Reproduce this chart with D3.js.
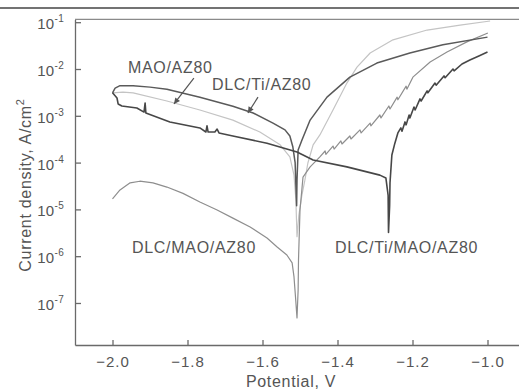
<!DOCTYPE html>
<meta charset="utf-8">
<style>
body { margin: 0; background: #fff; }
svg { display: block; font-family: "Liberation Sans", Arial, sans-serif; }
.axis path, .axis line { fill: none; stroke: #6a6a6a; stroke-width: 1.3; }
.axis text { fill: #555; font-size: 15px; letter-spacing: 1px; font-family: "Liberation Sans", Arial, sans-serif; }
.lbl { fill: #555; font-size: 16px; letter-spacing: 0.7px; }
.curve { fill: none; stroke-linejoin: round; }
</style>
<svg id="chart" width="519" height="391"></svg>
<script src="https://d3js.org/d3.v7.min.js"></script>
<script>

// potential (V) and current density (A/cm2)
var potTiAZ = [-2.0,-1.993,-1.980,-1.945,-1.900,-1.855,-1.767,-1.679,-1.625,-1.572,-1.540,-1.527,-1.519,-1.513,-1.511,-1.509,-1.508,-1.505,-1.495,-1.473,-1.428,-1.367,-1.295,-1.207,-1.119,-1.0];
var curTiAZ = [3.1e-3,3.9e-3,4.4e-3,4.4e-3,4.1e-3,3.7e-3,2.5e-3,1.6e-3,1.15e-3,7.0e-4,5.0e-4,3.7e-4,2.15e-4,1.0e-4,3.3e-5,1.2e-5,4.2e-5,1.86e-4,3.0e-4,8.1e-4,2.5e-3,6.7e-3,1.34e-2,2.2e-2,3.3e-2,4.8e-2];

var potMAO = [-2.0,-1.972,-1.945,-1.855,-1.767,-1.679,-1.607,-1.553,-1.527,-1.516,-1.511,-1.508,-1.503,-1.495,-1.487,-1.479,-1.465,-1.447,-1.412,-1.375,-1.348,-1.313,-1.252,-1.161,-1.073,-0.993];
var curMAO = [3.1e-3,3.2e-3,3.1e-3,2.07e-3,1.33e-3,8.1e-4,4.5e-4,2.4e-4,1.32e-4,5.4e-5,1.6e-5,2.6e-6,7.6e-6,2.0e-5,4.2e-5,9.8e-5,2.4e-4,3.9e-4,1.33e-3,5.0e-3,1.1e-2,2.2e-2,4.2e-2,6.8e-2,8.7e-2,1.06e-1];

var potTiMAO = [-2.0,-1.988,-1.985,-1.975,-1.935,-1.916,-1.913,-1.911,-1.847,-1.767,-1.751,-1.748,-1.745,-1.727,-1.721,-1.716,-1.679,-1.588,-1.508,-1.465,-1.375,-1.287,-1.271,-1.265,-1.264,-1.261,-1.260,-1.255,-1.247,-1.239,
  -1.231,-1.228,-1.220,-1.217,-1.209,-1.207,-1.196,-1.193,-1.180,-1.177,-1.161,-1.159,-1.140,-1.137,-1.116,-1.113,-1.092,-1.089,-1.068,-1.047,-1.023,-1.0];
var curTiMAO = [3.1e-3,2.4e-3,1.79e-3,1.62e-3,1.47e-3,1.2e-3,1.88e-3,1.15e-3,7.4e-4,5.5e-4,4.5e-4,6.1e-4,4.5e-4,4.5e-4,5.2e-4,4.3e-4,3.7e-4,2.6e-4,1.68e-4,1.14e-4,8.1e-5,5.4e-5,4.7e-5,2.0e-5,3.2e-6,1.2e-5,3.7e-5,1.45e-4,2.6e-4,4.3e-4,
  5.5e-4,4.7e-4,7.4e-4,6.4e-4,1.04e-3,9.0e-4,1.54e-3,1.33e-3,2.3e-3,2.07e-3,3.4e-3,3.1e-3,5.0e-3,4.5e-3,7.1e-3,6.5e-3,1.0e-2,9.1e-3,1.28e-2,1.56e-2,1.9e-2,2.3e-2];

var potDlcMAO = [-2.0,-1.980,-1.953,-1.927,-1.892,-1.855,-1.812,-1.767,-1.721,-1.679,-1.633,-1.588,-1.561,-1.535,-1.521,-1.516,-1.512,-1.508,-1.505,-1.504,-1.500,-1.492,-1.473,-1.447,-1.433,-1.431,-1.412,-1.409,-1.391,-1.388,-1.367,-1.364,-1.340,-1.337,-1.313,-1.311,-1.287,-1.284,-1.263,-1.260,-1.241,-1.239,-1.217,-1.215,-1.199,-1.153,-1.108,-1.055,-0.999];
var curDlcMAO = [1.67e-5,2.6e-5,3.7e-5,4.0e-5,3.7e-5,3.0e-5,2.2e-5,1.44e-5,9.7e-6,6.5e-6,4.2e-6,2.45e-6,1.57e-6,1.06e-6,7.2e-7,3.6e-7,1.34e-7,4.8e-8,1.9e-7,8.3e-7,9.7e-6,4.9e-5,8.1e-5,1.32e-4,1.77e-4,1.5e-4,2.26e-4,1.95e-4,2.9e-4,2.5e-4,3.7e-4,3.2e-4,5.0e-4,4.3e-4,7.0e-4,6.1e-4,1.04e-3,9.0e-4,1.62e-3,1.4e-3,2.5e-3,2.2e-3,4.3e-3,3.7e-3,6.7e-3,1.41e-2,2.3e-2,3.8e-2,5.9e-2];

var xTicks = [-2.0, -1.8, -1.6, -1.4, -1.2, -1.0];
var yExponents = [-1, -2, -3, -4, -5, -6, -7];

var svg = d3.select("#chart");

var x = d3.scaleLinear().domain([-2.1, -0.9]).range([75, 525]);
var y = d3.scaleLog().domain([Math.pow(10, -7.9), Math.pow(10, -0.94)]).range([345.1, 19.4]);

// page rule on top
svg.append("line").attr("x1", 0).attr("x2", 519).attr("y1", 8).attr("y2", 8)
  .attr("stroke", "#444").attr("stroke-width", 1.5);

// top frame
svg.append("line").attr("x1", 75).attr("x2", 519).attr("y1", y.range()[1]).attr("y2", y.range()[1])
  .attr("stroke", "#8a8a8a").attr("stroke-width", 1.3);

var xAxis = d3.axisBottom(x).tickValues(xTicks).tickSize(-5).tickPadding(11)
  .tickFormat(d3.format(".1f")).tickSizeOuter(0);
svg.append("g").attr("class", "axis")
  .attr("transform", "translate(0,345)")
  .call(xAxis);

var yAxis = d3.axisLeft(y).tickValues(yExponents.map(function(e) { return Math.pow(10, e); }))
  .tickSize(-6).tickFormat("").tickSizeOuter(0);
var gy = svg.append("g").attr("class", "axis")
  .attr("transform", "translate(75,0)")
  .call(yAxis);

gy.selectAll(".tick").each(function(d) {
  var t = d3.select(this).append("text")
    .attr("x", -11).attr("y", 6.5)
    .attr("text-anchor", "end")
    .style("letter-spacing", "0.3px");
  t.append("tspan").text("10");
  t.append("tspan").attr("dy", -7).style("font-size", "10px")
    .text("-" + Math.round(-Math.log10(d)));
});

// axis titles
svg.append("text").attr("class", "lbl")
  .attr("transform", "translate(31,185) rotate(-90)")
  .attr("text-anchor", "middle")
  .style("font-size", "16px")
  .call(function(t) {
    t.append("tspan").text("Current density, A/cm");
    t.append("tspan").attr("dy", -7).style("font-size", "11px").text("2");
  });

svg.append("text").attr("class", "lbl")
  .attr("x", 291).attr("y", 387)
  .attr("text-anchor", "middle")
  .text("Potential, V");

// curves
var line = d3.line()
  .x(function(d) { return x(d[0]); })
  .y(function(d) { return y(d[1]); });

var series = [
  {pot: potMAO, cur: curMAO, color: "#c4c4c4", w: 1.2},
  {pot: potDlcMAO, cur: curDlcMAO, color: "#8e8e8e", w: 1.2},
  {pot: potTiAZ, cur: curTiAZ, color: "#5a5a5a", w: 1.5},
  {pot: potTiMAO, cur: curTiMAO, color: "#474747", w: 1.6}
];

svg.selectAll("path.curve")
  .data(series)
  .enter().append("path")
  .attr("class", "curve")
  .attr("stroke", function(d) { return d.color; })
  .attr("stroke-width", function(d) { return d.w; })
  .attr("d", function(d) { return line(d3.zip(d.pot, d.cur)); });

// annotations
svg.append("defs").append("marker")
  .attr("id", "head").attr("viewBox", "0 0 10 10")
  .attr("refX", 10).attr("refY", 5)
  .attr("markerWidth", 8).attr("markerHeight", 6)
  .attr("markerUnits", "userSpaceOnUse")
  .attr("orient", "auto")
  .append("path").attr("d", "M0,0L10,5L0,10z").attr("fill", "#555");

var labels = [
  {text: "MAO/AZ80", v: -1.959, i: 8.4e-3},
  {text: "DLC/Ti/AZ80", v: -1.735, i: 3.5e-3},
  {text: "DLC/MAO/AZ80", v: -1.948, i: 1.15e-6},
  {text: "DLC/Ti/MAO/AZ80", v: -1.407, i: 1.15e-6}
];
svg.selectAll("text.ann")
  .data(labels)
  .enter().append("text")
  .attr("class", "lbl ann")
  .attr("x", function(d) { return x(d.v); })
  .attr("y", function(d) { return y(d.i); })
  .text(function(d) { return d.text; });

var arrows = [
  {v0: -1.783, i0: 6.4e-3, v1: -1.836, i1: 1.79e-3},
  {v0: -1.612, i0: 2.5e-3, v1: -1.639, i1: 1.15e-3}
];
svg.selectAll("line.arr")
  .data(arrows)
  .enter().append("line")
  .attr("class", "arr")
  .attr("x1", function(d) { return x(d.v0); })
  .attr("y1", function(d) { return y(d.i0); })
  .attr("x2", function(d) { return x(d.v1); })
  .attr("y2", function(d) { return y(d.i1); })
  .attr("stroke", "#555").attr("stroke-width", 1.2)
  .attr("marker-end", "url(#head)");

</script>
